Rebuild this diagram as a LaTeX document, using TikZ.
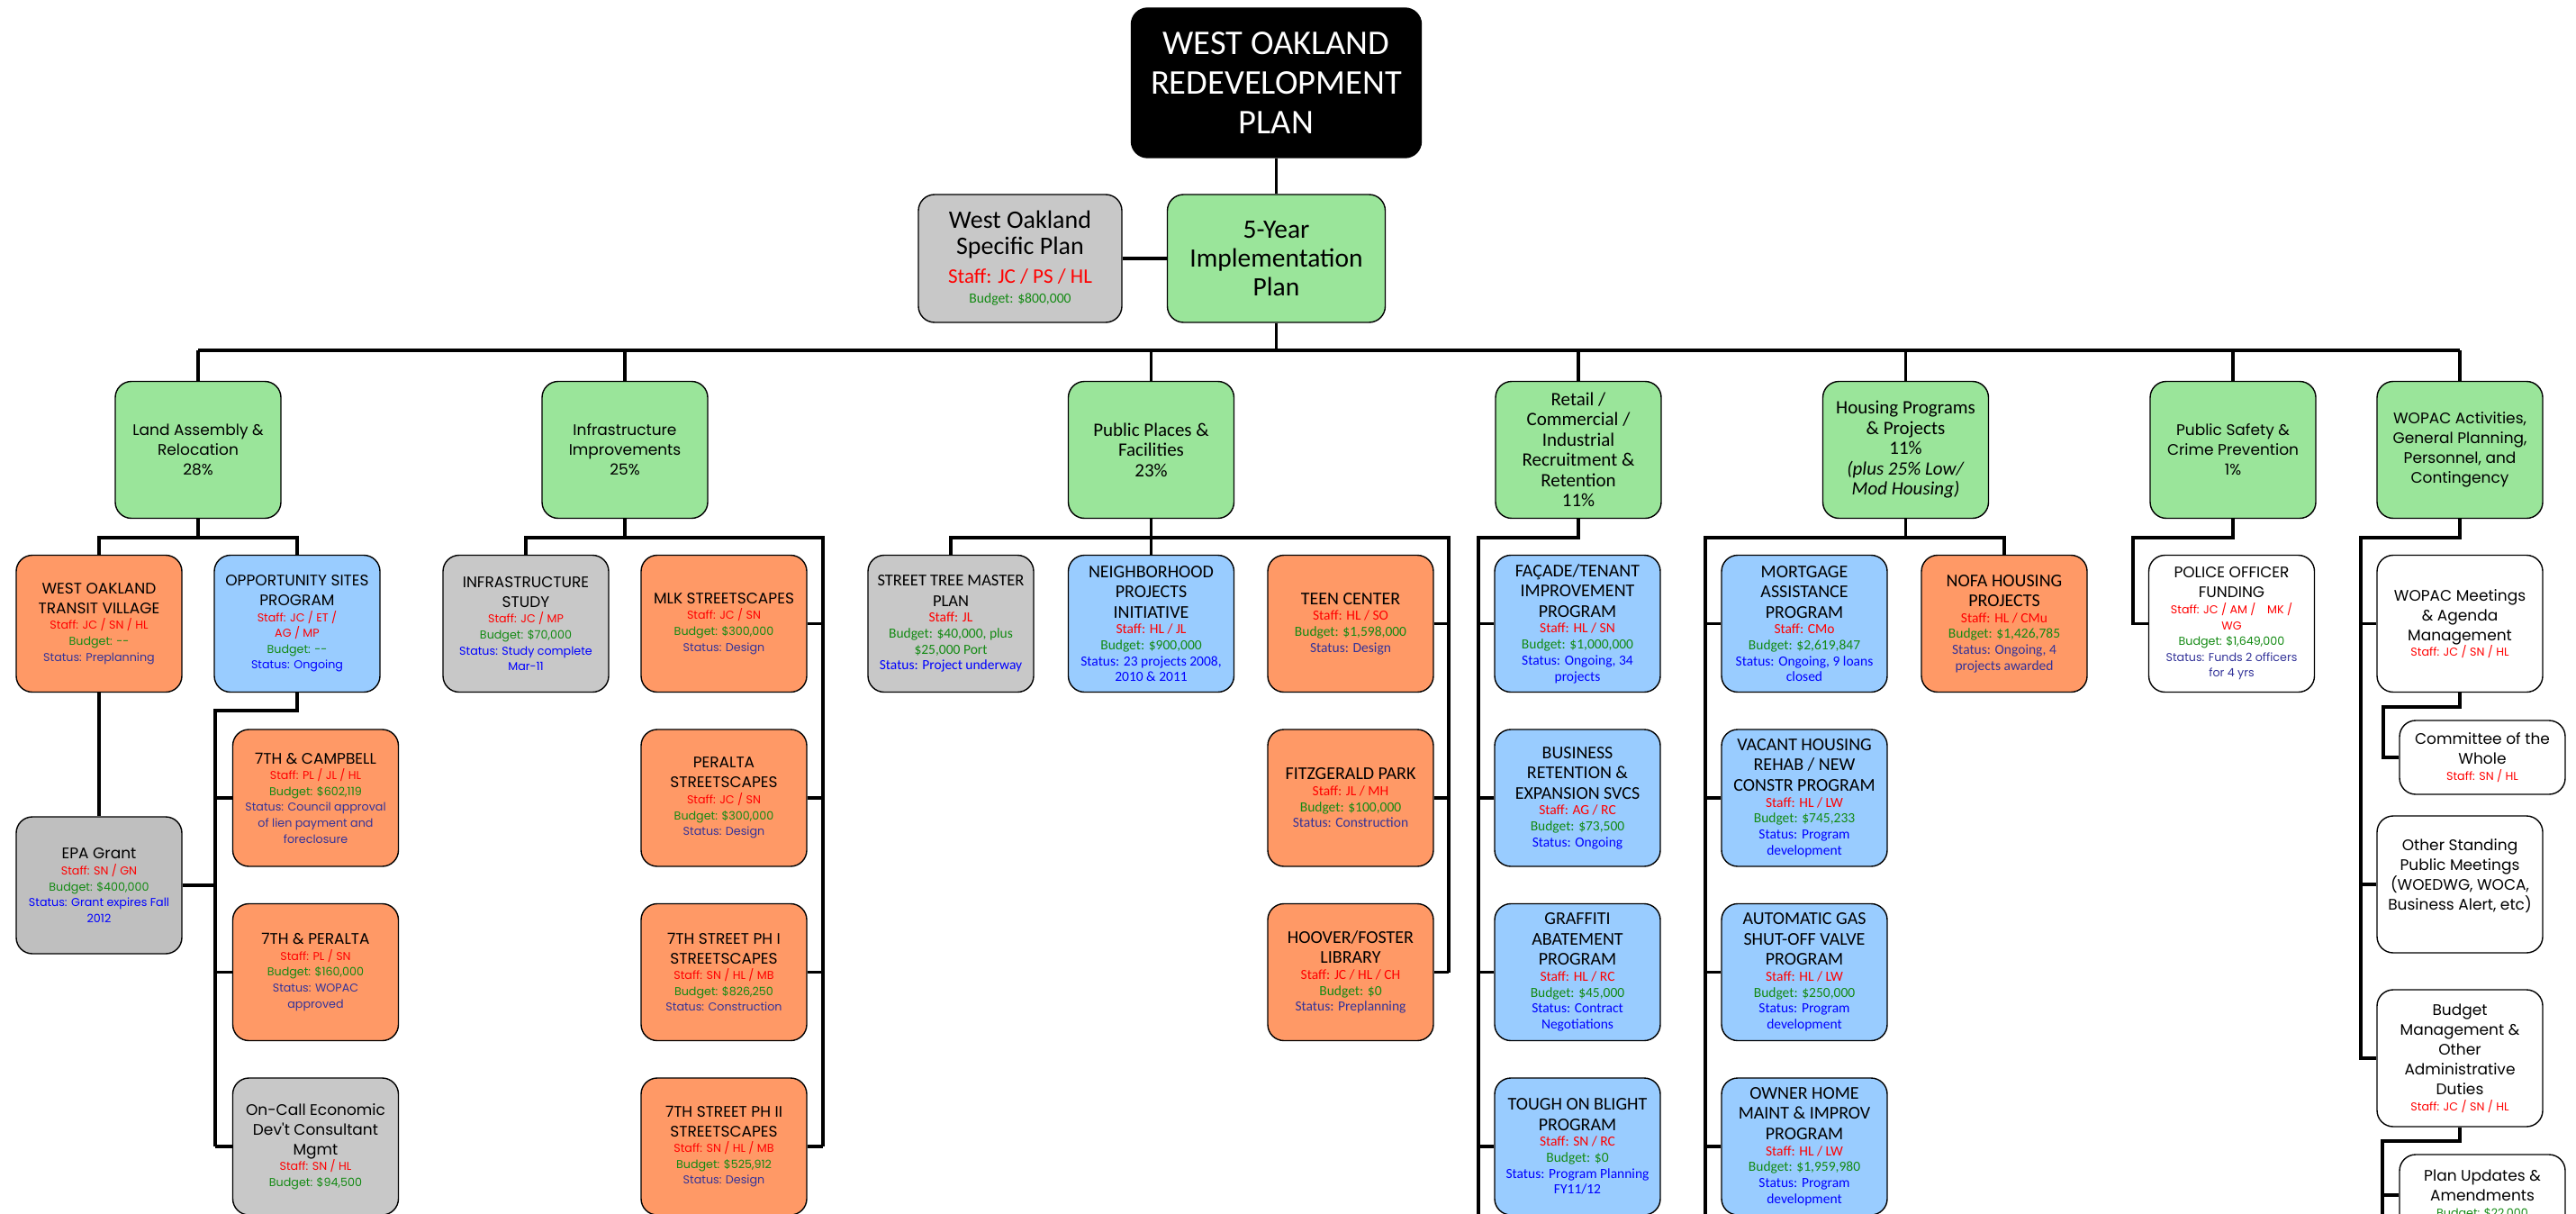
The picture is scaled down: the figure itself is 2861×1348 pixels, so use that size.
\documentclass[tikz,border=0pt]{standalone}
\usepackage{fontspec}
\newfontfamily\gothic{Poppins}
\newfontfamily\narrowfont{Carlito}
\definecolor{catgreen}{HTML}{9AE59A}
\definecolor{itemorange}{HTML}{FF9966}
\definecolor{itemblue}{HTML}{99CCFF}
\definecolor{itemgray}{HTML}{C8C8C8}
\definecolor{staffred}{HTML}{FF0000}
\definecolor{budgetgreen}{HTML}{138A13}
\definecolor{statusblue}{HTML}{0000FF}
\definecolor{statuspurple}{HTML}{333399}
\def\detfont{\narrowfont\fontsize{15.5}{17.7}\selectfont}
\newcommand\stf[1]{\par{\detfont\leavevmode\color{staffred}#1\par}}
\newcommand\bdg[1]{\par{\detfont\leavevmode\color{budgetgreen}#1\par}}
\newcommand\stb[1]{\par{\detfont\leavevmode\color{statusblue}#1\par}}
\newcommand\stp[1]{\par{\detfont\leavevmode\color{statuspurple}#1\par}}
\tikzset{
  box/.style={draw=black, line width=1.4pt, rounded corners=18pt, minimum width=184pt,
    minimum height=152pt, text width=180pt, align=flush center, inner sep=0pt},
  goth/.style={font={\gothic\fontsize{17}{22}\selectfont\def\detfont{\gothic\fontsize{12.7}{17.6}\selectfont}}},
  cond/.style={font={\narrowfont\fontsize{20}{22.5}\selectfont\def\detfont{\narrowfont\fontsize{15.5}{17.7}\selectfont}}},
  ncat/.style={font={\narrowfont\fontsize{21}{22.5}\selectfont}},
  cat/.style={box, fill=catgreen},
  orng/.style={box, fill=itemorange},
  blu/.style={box, fill=itemblue},
  gry/.style={box, fill=itemgray},
  wht/.style={box, fill=white},
  link/.style={draw=black, line width=3.5pt},
}
\begin{document}
\begin{tikzpicture}[x=1pt, y=-1pt]
  \useasboundingbox (0,0) rectangle (2861,1348);
  \clip (0,0) rectangle (2861,1348);

  % top of the chart
  \node[box, fill=black, text=white, minimum width=322pt, minimum height=166pt, text width=316pt,
    font=\narrowfont\fontsize{38.5}{44}\selectfont] (title) at (1417.5,92) {WEST OAKLAND\\REDEVELOPMENT\\PLAN};
  \node[gry, minimum width=226pt, minimum height=142pt, text width=218pt,
    font=\narrowfont\fontsize{28}{29}\selectfont] (spec) at (1133,287)
    {West Oakland\\Specific Plan\par{\fontsize{23}{32}\selectfont\leavevmode\color{staffred}Staff: JC / PS / HL\par}%
     {\fontsize{15.6}{22}\selectfont\leavevmode\color{budgetgreen}Budget: \$800,000\par}};
  \node[cat, minimum width=242pt, minimum height=142pt, text width=236pt,
    font=\narrowfont\fontsize{29.5}{32}\selectfont] (five) at (1417.5,287) {5-Year\\Implementation\\Plan};

  % program areas
  \node[cat, goth] (land) at (220,499.5) {Land Assembly \&\\Relocation\\28\%};
  \node[cat, goth] (infra) at (694,499.5) {Infrastructure\\Improvements\\25\%};
  \node[cat, ncat] (public) at (1278.5,499.5) {Public Places \&\\Facilities\\23\%};
  \node[cat, ncat] (retail) at (1753,499.5) {Retail /\\Commercial /\\Industrial\\Recruitment \&\\Retention\\11\%};
  \node[cat, ncat] (housing) at (2116.5,499.5) {Housing Programs\\\& Projects\\11\%\\\textit{(plus 25\% Low/}\\\textit{Mod Housing)}};
  \node[cat, goth] (safety) at (2480,499.5) {Public Safety \&\\Crime Prevention\\1\%};
  \node[cat, goth] (wopac) at (2732,499.5) {WOPAC Activities,\\General Planning,\\Personnel, and\\Contingency};

  % land assembly
  \node[orng, goth] (wotv) at (110,692.5) {WEST OAKLAND\\TRANSIT VILLAGE\stf{Staff: JC / SN / HL}\bdg{Budget: -{}-}\stp{Status: Preplanning}};
  \node[blu, goth] (opp) at (330,692.5) {OPPORTUNITY SITES\\PROGRAM\stf{Staff: JC / ET /\\AG / MP}\bdg{Budget: -{}-}\stb{Status: Ongoing}};
  \node[orng, goth] (camp) at (350.5,886) {7TH \& CAMPBELL\stf{Staff: PL / JL / HL}\bdg{Budget: \$602,119}\stp{Status: Council approval\\of lien payment and\\foreclosure}};
  \node[gry, goth, fill=black!25] (epa) at (110,983) {EPA Grant\stf{Staff: SN / GN}\bdg{Budget: \$400,000}\stb{Status: Grant expires Fall\\2012}};
  \node[orng, goth] (peralta) at (350.5,1079.5) {7TH \& PERALTA\stf{Staff: PL / SN}\bdg{Budget: \$160,000}\stp{Status: WOPAC\\approved}};
  \node[gry, goth] (oncall) at (350.5,1273) {On-Call Economic\\Dev't Consultant\\Mgmt\stf{Staff: SN / HL}\bdg{Budget: \$94,500}};

  % infrastructure
  \node[gry, goth] (study) at (584,692.5) {INFRASTRUCTURE\\STUDY\stf{Staff: JC / MP}\bdg{Budget: \$70,000}\stb{Status: Study complete\\Mar-11}};
  \node[orng, goth] (mlk) at (804,692.5) {MLK STREETSCAPES\stf{Staff: JC / SN}\bdg{Budget: \$300,000}\stp{Status: Design}};
  \node[orng, goth] (perss) at (804,886) {PERALTA\\STREETSCAPES\stf{Staff: JC / SN}\bdg{Budget: \$300,000}\stp{Status: Design}};
  \node[orng, goth] (phone) at (804,1079.5) {7TH STREET PH I\\STREETSCAPES\stf{Staff: SN / HL / MB}\bdg{Budget: \$826,250}\stp{Status: Construction}};
  \node[orng, goth] (phtwo) at (804,1273) {7TH STREET PH II\\STREETSCAPES\stf{Staff: SN / HL / MB}\bdg{Budget: \$525,912}\stp{Status: Design}};

  % public places
  \node[gry, cond] (street) at (1056,692.5) {{\fontsize{18.5}{22.5}\selectfont STREET TREE MASTER\\PLAN\par}\stf{Staff: JL}\bdg{Budget: \$40,000, plus\\\$25,000 Port}\stb{Status: Project underway}};
  \node[blu, cond] (neigh) at (1278.5,692.5) {NEIGHBORHOOD\\PROJECTS\\INITIATIVE\stf{Staff: HL / JL}\bdg{Budget: \$900,000}\stb{Status: 23 projects 2008,\\2010 \& 2011}};
  \node[orng, cond] (teen) at (1500,692.5) {TEEN CENTER\stf{Staff: HL / SO}\bdg{Budget: \$1,598,000}\stp{Status: Design}};
  \node[orng, cond] (fitz) at (1500,886) {FITZGERALD PARK\stf{Staff: JL / MH}\bdg{Budget: \$100,000}\stp{Status: Construction}};
  \node[orng, cond] (hoover) at (1500,1079.5) {HOOVER/FOSTER\\LIBRARY\stf{Staff: JC / HL / CH}\bdg{Budget: \$0}\stp{Status: Preplanning}};

  % retail
  \node[blu, cond] (facade) at (1752,692.5) {FAÇADE/TENANT\\IMPROVEMENT\\PROGRAM\stf{Staff: HL / SN}\bdg{Budget: \$1,000,000}\stb{Status: Ongoing, 34\\projects}};
  \node[blu, cond] (business) at (1752,886) {BUSINESS\\RETENTION \&\\EXPANSION SVCS\stf{Staff: AG / RC}\bdg{Budget: \$73,500}\stb{Status: Ongoing}};
  \node[blu, cond] (graffiti) at (1752,1079.5) {GRAFFITI\\ABATEMENT\\PROGRAM\stf{Staff: HL / RC}\bdg{Budget: \$45,000}\stb{Status: Contract\\Negotiations}};
  \node[blu, cond] (tough) at (1752,1273) {TOUGH ON BLIGHT\\PROGRAM\stf{Staff: SN / RC}\bdg{Budget: \$0}\stb{Status: Program Planning\\FY11/12}};

  % housing
  \node[blu, cond] (mortgage) at (2004,692.5) {MORTGAGE\\ASSISTANCE\\PROGRAM\stf{Staff: CMo}\bdg{Budget: \$2,619,847}\stb{Status: Ongoing, 9 loans\\closed}};
  \node[orng, cond] (nofa) at (2226,692.5) {NOFA HOUSING\\PROJECTS\stf{Staff: HL / CMu}\bdg{Budget: \$1,426,785}\stp{Status: Ongoing, 4\\projects awarded}};
  \node[blu, cond] (vacant) at (2004,886) {VACANT HOUSING\\REHAB / NEW\\CONSTR PROGRAM\stf{Staff: HL / LW}\bdg{Budget: \$745,233}\stb{Status: Program\\development}};
  \node[blu, cond] (auto) at (2004,1079.5) {AUTOMATIC GAS\\SHUT-OFF VALVE\\PROGRAM\stf{Staff: HL / LW}\bdg{Budget: \$250,000}\stb{Status: Program\\development}};
  \node[blu, cond] (owner) at (2004,1273) {OWNER HOME\\MAINT \& IMPROV\\PROGRAM\stf{Staff: HL / LW}\bdg{Budget: \$1,959,980}\stb{Status: Program\\development}};

  % public safety and wopac
  \node[wht, goth] (police) at (2478.5,692.5) {POLICE OFFICER\\FUNDING\stf{Staff: JC / AM /\quad MK /\\WG}\bdg{Budget: \$1,649,000}\stp{Status: Funds 2 officers\\for 4 yrs}};
  \node[wht, goth] (meet) at (2732,692.5) {WOPAC Meetings\\\& Agenda\\Management\stf{Staff: JC / SN / HL}};
  \node[wht, goth, minimum height=82pt] (cotw) at (2757,841) {Committee of the\\Whole\stf{Staff: SN / HL}};
  \node[wht, goth] (other) at (2732,982) {Other Standing\\Public Meetings\\(WOEDWG, WOCA,\\Business Alert, etc)\\\mbox{}};
  \node[wht, goth] (budget) at (2732,1175) {Budget\\Management \&\\Other\\Administrative\\Duties\stf{Staff: JC / SN / HL}};
  \node[wht, goth, minimum height=90pt] (plan) at (2757,1327) {Plan Updates \&\\Amendments\bdg{Budget: \$22,000}};

  % connectors
  \draw[link] (title) -- (five);
  \draw[link] (spec) -- (five);
  \coordinate (busL) at (220,389);
  \coordinate (busR) at (2732,389);
  \draw[link] (busL) -- (busR);
  \draw[link] (five) -- (five |- busL);
  \foreach \c in {land,infra,public,retail,housing,safety,wopac}
    \draw[link] (\c) -- (\c |- busL);

  \coordinate (landB) at (220,597);
  \draw[link] (land) -- (landB);
  \draw[link] (wotv) |- (landB) -| (opp);
  \draw[link] (wotv) -- (epa);
  \coordinate (oppB) at (239,789);
  \draw[link] (opp) |- (oppB) -- (oppB |- oncall);
  \foreach \n in {camp,peralta,oncall,epa}
    \draw[link] (\n) -- (\n -| oppB);

  \coordinate (infB) at (914,597);
  \draw[link] (infra) -- (infra |- infB);
  \draw[link] (study) |- (infB) -- (infB |- phtwo);
  \foreach \n in {mlk,perss,phone,phtwo}
    \draw[link] (\n) -- (\n -| infB);

  \coordinate (pubB) at (1609,597);
  \draw[link] (street) |- (pubB) -- (pubB |- hoover);
  \draw[link] (public) -- (neigh);
  \foreach \n in {teen,fitz,hoover}
    \draw[link] (\n) -- (\n -| pubB);

  \coordinate (retB) at (1642,597);
  \coordinate (retE) at (1642,1348);
  \draw[link] (retail) |- (retB) -- (retE);
  \foreach \n in {facade,business,graffiti,tough}
    \draw[link] (\n) -- (\n -| retB);

  \coordinate (houB) at (1894,597);
  \coordinate (houE) at (1894,1348);
  \draw[link] (nofa) |- (houB) -- (houE);
  \draw[link] (housing) -- (housing |- houB);
  \foreach \n in {mortgage,vacant,auto,owner}
    \draw[link] (\n) -- (\n -| houB);

  \coordinate (safB) at (2369,597);
  \draw[link] (safety) |- (safB) |- (police);

  \coordinate (wopB) at (2622,597);
  \draw[link] (wopac) |- (wopB) |- (budget);
  \foreach \n in {meet,other}
    \draw[link] (\n) -- (\n -| wopB);
  \coordinate (meetB) at (2647,785);
  \draw[link] (meet) |- (meetB) |- (cotw);
  \coordinate (budB) at (2646,1267);
  \coordinate (budE) at (2646,1348);
  \draw[link] (budget) |- (budB) -- (budE);
  \draw[link] (plan) -- (plan -| budB);
\end{tikzpicture}
\end{document}
